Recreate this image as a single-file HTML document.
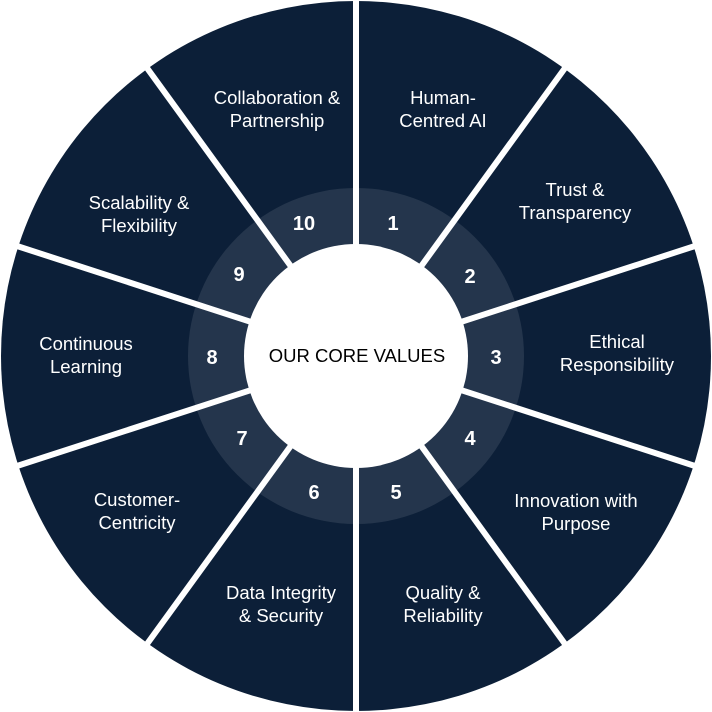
<!DOCTYPE html>
<html><head><meta charset="utf-8"><style>
html,body{margin:0;padding:0;background:#fff;}
svg{display:block}
text{font-family:"Liberation Sans",Arial,sans-serif;}
</style></head><body>
<svg width="712" height="712" viewBox="0 0 712 712" xmlns="http://www.w3.org/2000/svg">
<circle cx="356" cy="356" r="355" fill="#0c1f38"/>
<circle cx="356" cy="356" r="168" fill="#ffffff" fill-opacity="0.1"/>
<g stroke="#fff" stroke-width="6">
<line x1="356" y1="356" x2="356" y2="0"/>
<line x1="356" y1="356" x2="565" y2="68"/>
<line x1="356" y1="356" x2="695" y2="246"/>
<line x1="356" y1="356" x2="695" y2="466"/>
<line x1="356" y1="356" x2="565" y2="644"/>
<line x1="356" y1="356" x2="356" y2="712"/>
<line x1="356" y1="356" x2="147" y2="644"/>
<line x1="356" y1="356" x2="17" y2="466"/>
<line x1="356" y1="356" x2="17" y2="246"/>
<line x1="356" y1="356" x2="147" y2="68"/>
</g>
<circle cx="356" cy="356" r="112" fill="#fff"/>
<text x="357" y="362" font-size="18.5" fill="#000" text-anchor="middle">OUR CORE VALUES</text>
<g fill="#fff" font-size="20" font-weight="bold" text-anchor="middle">
<text x="304" y="230">10</text><text x="393" y="230">1</text><text x="470" y="283">2</text>
<text x="496" y="364">3</text><text x="470" y="445">4</text><text x="396" y="499">5</text>
<text x="314" y="499">6</text><text x="242" y="445">7</text><text x="212" y="364">8</text>
<text x="239" y="281">9</text>
</g>
<g fill="#fff" font-size="18.5" text-anchor="middle">
<text x="277" y="104">Collaboration &amp;</text><text x="277" y="127">Partnership</text>
<text x="443" y="104">Human-</text><text x="443" y="127">Centred AI</text>
<text x="575" y="196">Trust &amp;</text><text x="575" y="219">Transparency</text>
<text x="617" y="348">Ethical</text><text x="617" y="371">Responsibility</text>
<text x="576" y="507">Innovation with</text><text x="576" y="530">Purpose</text>
<text x="443" y="599">Quality &amp;</text><text x="443" y="622">Reliability</text>
<text x="281" y="599">Data Integrity</text><text x="281" y="622">&amp; Security</text>
<text x="137" y="506">Customer-</text><text x="137" y="529">Centricity</text>
<text x="86" y="350">Continuous</text><text x="86" y="373">Learning</text>
<text x="139" y="209">Scalability &amp;</text><text x="139" y="232">Flexibility</text>
</g>
</svg>
</body></html>
